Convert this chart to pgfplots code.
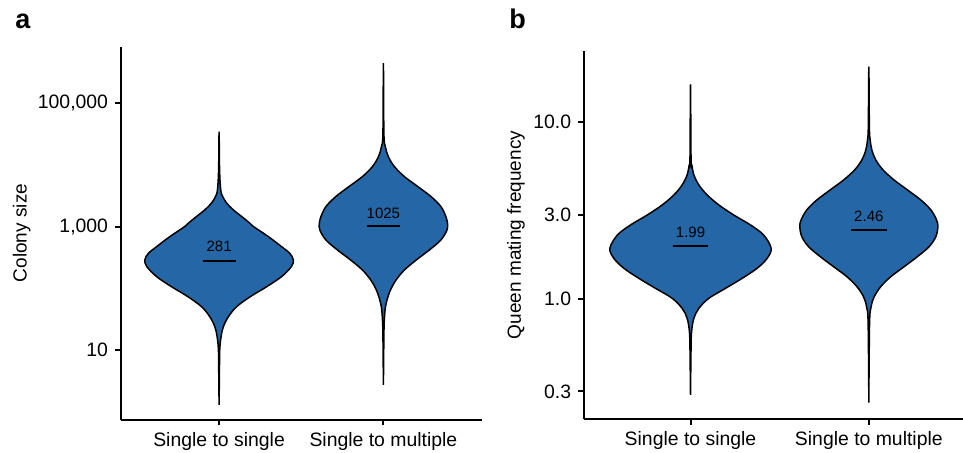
\documentclass[border=0pt]{standalone}
\usepackage{fontspec}
\setmainfont{Liberation Sans}
\usepackage{pgfplots}
\pgfplotsset{compat=1.18}
\usepackage{pgfplotstable}
\definecolor{vblue}{RGB}{37,102,166}

% violin contours: y = log10(value), w = half width (category units)
\pgfplotstableread{
y w
0.109 0
0.600 0.002
1.000 0.004
1.217 0.012
1.378 0.026
1.541 0.057
1.703 0.107
1.865 0.19
2.027 0.29
2.189 0.38
2.352 0.44
2.460 0.452
2.568 0.43
2.676 0.38
2.838 0.30
3.000 0.21
3.054 0.188
3.163 0.138
3.271 0.087
3.379 0.047
3.487 0.022
3.595 0.010
3.919 0.003
4.541 0
3.919 -0.003
3.595 -0.010
3.487 -0.022
3.379 -0.047
3.271 -0.087
3.163 -0.138
3.054 -0.188
3.000 -0.21
2.838 -0.30
2.676 -0.38
2.568 -0.43
2.460 -0.452
2.352 -0.44
2.189 -0.38
2.027 -0.29
1.865 -0.19
1.703 -0.107
1.541 -0.057
1.378 -0.026
1.217 -0.012
1.000 -0.004
0.600 -0.002
0.109 0
}\vAa

\pgfplotstableread{
y w
0.433 0
1.000 0.002
1.379 0.004
1.649 0.010
1.811 0.022
1.973 0.043
2.135 0.077
2.298 0.128
2.460 0.20
2.622 0.28
2.784 0.35
2.946 0.387
3.054 0.39
3.163 0.38
3.325 0.35
3.487 0.29
3.649 0.21
3.811 0.128
3.973 0.067
4.135 0.030
4.297 0.012
4.514 0.003
5.649 0
4.514 -0.003
4.297 -0.012
4.135 -0.030
3.973 -0.067
3.811 -0.128
3.649 -0.21
3.487 -0.29
3.325 -0.35
3.163 -0.38
3.054 -0.39
2.946 -0.387
2.784 -0.35
2.622 -0.28
2.460 -0.20
2.298 -0.128
2.135 -0.077
1.973 -0.043
1.811 -0.022
1.649 -0.010
1.379 -0.004
1.000 -0.002
0.433 0
}\vAb

\pgfplotstableread{
y w
-0.543 0
-0.279 0.003
-0.185 0.006
-0.109 0.019
-0.053 0.047
0.004 0.103
0.060 0.196
0.117 0.29
0.174 0.374
0.230 0.43
0.287 0.452
0.362 0.41
0.419 0.336
0.475 0.243
0.532 0.159
0.589 0.093
0.645 0.047
0.702 0.019
0.758 0.0075
0.796 0.003
1.215 0
0.796 -0.003
0.758 -0.0075
0.702 -0.019
0.645 -0.047
0.589 -0.093
0.532 -0.159
0.475 -0.243
0.419 -0.336
0.362 -0.41
0.287 -0.452
0.230 -0.43
0.174 -0.374
0.117 -0.29
0.060 -0.196
0.004 -0.103
-0.053 -0.047
-0.109 -0.019
-0.185 -0.006
-0.279 -0.003
-0.543 0
}\vBa

\pgfplotstableread{
y w
-0.587 0
-0.138 0.004
-0.043 0.013
0.013 0.030
0.070 0.067
0.126 0.123
0.183 0.198
0.240 0.273
0.296 0.338
0.353 0.376
0.409 0.387
0.447 0.38
0.504 0.348
0.560 0.292
0.617 0.217
0.673 0.142
0.730 0.080
0.787 0.039
0.843 0.017
0.900 0.0075
0.975 0.003
1.315 0
0.975 -0.003
0.900 -0.0075
0.843 -0.017
0.787 -0.039
0.730 -0.080
0.673 -0.142
0.617 -0.217
0.560 -0.292
0.504 -0.348
0.447 -0.38
0.409 -0.387
0.353 -0.376
0.296 -0.338
0.240 -0.273
0.183 -0.198
0.126 -0.123
0.070 -0.067
0.013 -0.030
-0.043 -0.013
-0.138 -0.004
-0.587 0
}\vBb

\pgfplotsset{
  violinax/.style={
    scale only axis,
    anchor=south west,
    xmin=0.4,
    axis lines=left,
    axis line style={-, line width=1pt, black},
    xtick={1,2},
    xticklabels={Single to single, Single to multiple},
    tick align=outside,
    major tick length=2.7pt,
    tick style={line width=1pt, black},
    ticklabel style={font=\fontsize{9.7}{11}\selectfont},
    /pgf/number format/assume math mode=true,
    clip=false,
  },
}
\tikzset{
  violin/.style={fill=vblue, draw=black, line width=0.75pt, smooth, tension=0.55},
  medline/.style={black, line width=1pt},
  annot/.style={font=\fontsize{7.5}{9}\selectfont, inner sep=0pt},
}

\begin{document}
\begin{tikzpicture}
\useasboundingbox (0,0) rectangle (481.5pt,226.5pt);

\begin{axis}[violinax,
  at={(60.25pt,16.5pt)},
  width=180.75pt, height=186.5pt,
  xmax=2.6, ymin=-0.135, ymax=5.913,
  ytick={1,3,5}, yticklabels={10,{1,000},{100,000}},
]
\addplot[violin] table[x expr=1+\thisrow{w}, y=y] {\vAa} -- cycle;
\addplot[violin] table[x expr=2+\thisrow{w}, y=y] {\vAb} -- cycle;
\addplot[medline] coordinates {(0.9,2.449) (1.1,2.449)};
\addplot[medline] coordinates {(1.9,3.011) (2.1,3.011)};
\node[annot] at (axis cs:1,2.676) {281};
\node[annot] at (axis cs:2,3.217) {1025};
\end{axis}

\begin{axis}[violinax,
  at={(291.75pt,16.85pt)},
  width=189.75pt, height=184.15pt,
  xmax=2.528, ymin=-0.681, ymax=1.4035,
  ytick={-0.5229,0,0.4771,1}, yticklabels={0.3,1.0,3.0,10.0},
]
\addplot[violin] table[x expr=1+\thisrow{w}, y=y] {\vBa} -- cycle;
\addplot[violin] table[x expr=2+\thisrow{w}, y=y] {\vBb} -- cycle;
\addplot[medline] coordinates {(0.9,0.299) (1.1,0.299)};
\addplot[medline] coordinates {(1.9,0.391) (2.1,0.391)};
\node[annot] at (axis cs:1,0.377) {1.99};
\node[annot] at (axis cs:2,0.470) {2.46};
\end{axis}

\node[rotate=90, font=\fontsize{9.5}{11}\selectfont] at (10.85pt,110pt) {Colony size};
\node[rotate=90, font=\fontsize{9.5}{11}\selectfont] at (258pt,109pt) {Queen mating frequency};
\node[anchor=base west, inner sep=0pt, font=\fontsize{13.5}{15}\selectfont\bfseries] at (7.5pt,212.35pt) {a};
\node[anchor=base west, inner sep=0pt, font=\fontsize{13.5}{15}\selectfont\bfseries] at (254.5pt,212.35pt) {b};
\end{tikzpicture}
\end{document}
